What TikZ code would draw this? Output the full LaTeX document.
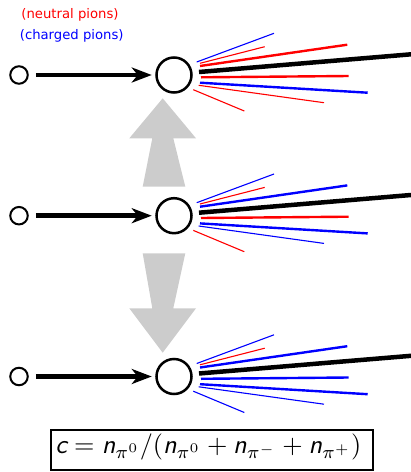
\documentclass[tikz,border=0pt]{standalone}
\usepackage{amsmath}
\usepackage{fontspec}
\newfontfamily\labfont{DejaVu Sans}
\usetikzlibrary{arrows.meta}
\newcommand\sv[1]{\text{\sffamily\slshape #1}}
\newcommand\drawfan[8]{%
  \begin{scope}[shift={(#1.center)}]
    \draw[fanthin,#2]  (22.7,-13)  -- (100,-41.7);
    \draw[fanthin,#3]  (26,-11.7)  -- (90.7,-28.3);
    \draw[fanthick,#4] (26,-9)     -- (173.3,-30.3);
    \draw[fanmain]     (25,-3)     -- (237,-20.7);
    \draw[fanthick,#5] (27,2.3)    -- (174.7,1);
    \draw[fanthick,#6] (26,7.7)    -- (193.7,17.7);
    \draw[fanthin,#7]  (24.7,10.3) -- (150,27.7);
    \draw[fanthin,#8]  (19.3,14.7) -- (70.3,36);
  \end{scope}}
\begin{document}
\begin{tikzpicture}[x=1pt,y=-1pt,
  smallc/.style={circle,draw,line width=2pt,minimum size=17.5pt,inner sep=0pt},
  bigc/.style={circle,draw,line width=2.5pt,minimum size=35pt,inner sep=0pt},
  beam/.style={line width=4.5pt,-{Stealth[length=20pt,width=15pt,inset=6pt]},shorten <=7pt,shorten >=3.5pt},
  fanthin/.style={line width=1.1pt},
  fanthick/.style={line width=2.4pt},
  fanmain/.style={line width=4.5pt,black},
  grayarrow/.style={fill=black!20,draw=none},
  lab/.style={font=\labfont\fontsize{13.2}{15}\selectfont,inner sep=0pt}]
\useasboundingbox (0,0) rectangle (411,472);

\node[lab,red]  (nlab) at (70,15)   {(neutral pions)};
\node[lab,blue] (clab) at (71.7,36) {(charged pions)};

\node[smallc] (s1) at (19,75) {};
\node[bigc]   (b1) at (174,75) {};
\node[smallc] (s2) at (19,215.7) {};
\node[bigc]   (b2) at (174,215.7) {};
\node[smallc] (s3) at (19,376.5) {};
\node[bigc]   (b3) at (174,376.5) {};

\draw[beam] (s1) -- (b1);
\draw[beam] (s2) -- (b2);
\draw[beam] (s3) -- (b3);

\drawfan{b1}{blue}{red}{red}{red}{blue}{red}{red}
\drawfan{b2}{blue}{red}{blue}{red}{blue}{blue}{red}
\drawfan{b3}{blue}{red}{blue}{blue}{blue}{blue}{blue}

\fill[grayarrow] (162.7,98.3) -- (196,138.3) -- (173.3,138.3) -- (185.3,186.7)
  -- (142.7,186.7) -- (152.3,138.3) -- (129.3,138.3) -- cycle;
\fill[grayarrow] (142.7,253.3) -- (185.3,253.3) -- (173.3,308.3) -- (196,308.3)
  -- (162.7,352.7) -- (129.3,308.3) -- (152.3,308.3) -- cycle;

\draw[line width=2pt] (51,429.5) rectangle (373,469.5);
\node[inner sep=0pt] (eq) at (208.3,447)
  {\resizebox{306pt}{!}{$\sv{c} = \sv{n}_{\pi^0}/(\sv{n}_{\pi^0} + \sv{n}_{\pi^-} + \sv{n}_{\pi^+})$}};
\end{tikzpicture}
\end{document}
